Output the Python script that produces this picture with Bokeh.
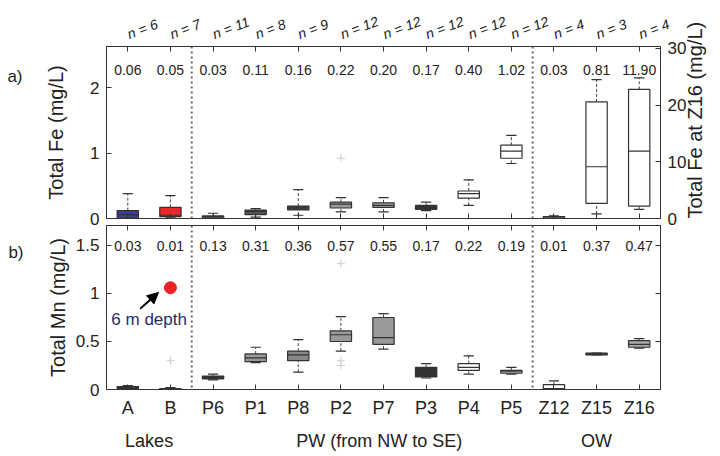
import math
from bokeh.plotting import figure
from bokeh.models import (Range1d, LinearAxis, FixedTicker, ColumnDataSource,
                          Label, Span, Arrow, NormalHead, CustomJSTickFormatter)
from bokeh.layouts import column
from bokeh.transform import dodge
from bokeh.core.properties import value
from bokeh.embed import file_html
from bokeh.resources import INLINE

FONT = "Liberation Sans"

# ---------------- data ----------------
categories = ["A", "B", "P6", "P1", "P8", "P2", "P7", "P3", "P4", "P5", "Z12", "Z15", "Z16"]
n_samples = [6, 7, 11, 8, 9, 12, 12, 12, 12, 12, 4, 3, 4]
groups = ["Lakes", "PW (from NW to SE)", "OW"]
panel_tags = ["a)", "b)"]

# Total Fe (mg/L); Z16 is read on the right axis
fe_axis = ["default"] * 12 + ["right"]
fe_median_text = ["0.06", "0.05", "0.03", "0.11", "0.16", "0.22", "0.20", "0.17", "0.40", "1.02", "0.03", "0.81", "11.90"]
fe_low = [0.0, 0.02, 0.0, 0.02, 0.05, 0.10, 0.10, 0.12, 0.20, 0.84, 0.0, 0.07, 1.6]
fe_q1 = [0.01, 0.03, 0.01, 0.06, 0.13, 0.16, 0.17, 0.14, 0.31, 0.92, 0.0, 0.23, 2.2]
fe_med = [0.06, 0.05, 0.03, 0.11, 0.16, 0.22, 0.20, 0.17, 0.38, 1.03, 0.02, 0.79, 11.9]
fe_q3 = [0.12, 0.17, 0.04, 0.13, 0.19, 0.25, 0.24, 0.20, 0.42, 1.12, 0.03, 1.78, 22.8]
fe_high = [0.38, 0.35, 0.08, 0.15, 0.44, 0.32, 0.32, 0.25, 0.59, 1.27, 0.04, 2.12, 24.8]
fe_fill = ["#3c3c99", "#e82a2a", "#bbbbbb", "#555555", "#444444", "#999999", "#aaaaaa",
           "#333333", "#ffffff", "#ffffff", "#ffffff", "#ffffff", "#ffffff"]
fe_outlier_cat = ["P2"]
fe_outlier_val = [0.92]

# Total Mn (mg/L)
mn_median_text = ["0.03", "0.01", "0.13", "0.31", "0.36", "0.57", "0.55", "0.17", "0.22", "0.19", "0.01", "0.37", "0.47"]
mn_low = [0.0, 0.0, 0.10, 0.28, 0.18, 0.40, 0.42, 0.12, 0.16, 0.16, 0.0, 0.36, 0.43]
mn_q1 = [0.01, 0.0, 0.11, 0.29, 0.30, 0.50, 0.47, 0.13, 0.20, 0.17, 0.0, 0.36, 0.44]
mn_med = [0.02, 0.01, 0.13, 0.33, 0.36, 0.57, 0.54, 0.17, 0.23, 0.19, 0.01, 0.37, 0.47]
mn_q3 = [0.03, 0.01, 0.14, 0.37, 0.40, 0.61, 0.75, 0.23, 0.27, 0.20, 0.05, 0.38, 0.51]
mn_high = [0.04, 0.02, 0.16, 0.44, 0.52, 0.76, 0.79, 0.27, 0.35, 0.23, 0.09, 0.38, 0.53]
mn_fill = ["#444444", "#333366", "#333333", "#999999", "#888888", "#999999", "#999999",
           "#333333", "#ffffff", "#dddddd", "#ffffff", "#444444", "#aaaaaa"]
mn_outlier_cat = ["B", "P2", "P2", "P2"]
mn_outlier_val = [0.30, 0.25, 0.30, 1.31]
b_6m_value = 1.06  # lake B at 6 m depth

# ---------------- layout constants ----------------
idx = list(range(len(categories)))
pos = {c: i for i, c in enumerate(categories)}
group_label_x = [0.5, 5.9, 11.0]
separators = [1.5, 9.5]
W = 720
LB, RB = 106, 56
EDGE = "#333333"
TXT = "#222222"


def blank():
    return CustomJSTickFormatter(code="return ''")


def style_axis(ax, labels=True, size="17px"):
    ax.major_tick_in = 5
    ax.major_tick_out = 0
    ax.minor_tick_line_color = None
    ax.axis_line_color = EDGE
    ax.major_tick_line_color = EDGE
    ax.major_label_text_font = FONT
    ax.major_label_text_font_size = size
    ax.major_label_text_color = TXT
    ax.axis_label_text_font = FONT
    ax.axis_label_text_font_size = "20px"
    ax.axis_label_text_font_style = "normal"
    ax.axis_label_text_color = TXT
    if not labels:
        ax.formatter = blank()
        ax.major_label_standoff = 0


def label_axis(ticks, texts, standoff, size):
    ax = LinearAxis(ticker=FixedTicker(ticks=ticks))
    ax.major_label_overrides = {t: s for t, s in zip(ticks, texts)}
    ax.major_tick_in = 0
    ax.major_tick_out = 0
    ax.minor_tick_line_color = None
    ax.axis_line_color = None
    ax.major_tick_line_color = None
    ax.major_label_standoff = standoff
    ax.major_label_text_font = FONT
    ax.major_label_text_font_size = size
    ax.major_label_text_color = TXT
    return ax


def draw_boxes(p, rows, range_name="default"):
    keys = ["x", "low", "q1", "med", "q3", "high", "fill"]
    d = {k: [r[i] for r in rows] for i, k in enumerate(keys)}
    src = ColumnDataSource(d)
    kw = dict(source=src, y_range_name=range_name)
    p.segment(x0="x", y0="low", x1="x", y1="q1", line_color="#444444", line_dash="3 2", **kw)
    p.segment(x0="x", y0="q3", x1="x", y1="high", line_color="#444444", line_dash="3 2", **kw)
    p.segment(x0=dodge("x", -0.12), y0="low", x1=dodge("x", 0.12), y1="low", line_color="#333333", line_width=1.2, **kw)
    p.segment(x0=dodge("x", -0.12), y0="high", x1=dodge("x", 0.12), y1="high", line_color="#333333", line_width=1.2, **kw)
    p.vbar(x="x", width=0.5, bottom="q1", top="q3", fill_color="fill", line_color="#333333", line_width=1.2, **kw)
    p.segment(x0=dodge("x", -0.25), y0="med", x1=dodge("x", 0.25), y1="med", line_color="#333333", line_width=1.2, **kw)


def make_fig(height, ymax, top, bottom):
    p = figure(width=W, height=height, x_range=Range1d(-0.5, 12.5), y_range=Range1d(0, ymax),
               output_backend="svg", toolbar_location=None,
               min_border_left=LB, min_border_right=RB, min_border_top=top, min_border_bottom=bottom)
    p.grid.visible = False
    p.outline_line_color = EDGE
    p.outline_line_width = 1
    for s in separators:
        p.add_layout(Span(location=s, dimension="height", line_color="#666666", line_dash="2 3", line_width=2))
    return p


# ---------------- panel a) Fe ----------------
p1 = make_fig(236, 2.626, 46, 18)
p1.extra_y_ranges = {"right": Range1d(0, 30.35)}

p1.xaxis.ticker = FixedTicker(ticks=idx)
style_axis(p1.xaxis[0], labels=False)
p1.yaxis.ticker = FixedTicker(ticks=[0, 1, 2])
style_axis(p1.yaxis[0])
p1.yaxis.axis_label = "Total Fe (mg/L)"
p1.yaxis.major_label_standoff = 7
p1.yaxis.axis_label_standoff = 20
p1.add_layout(label_axis([2.17], [panel_tags[0]], 20, "17px"), "left")

top_ax = LinearAxis(ticker=FixedTicker(ticks=idx))
style_axis(top_ax, size="14px")
top_ax.major_label_overrides = {i: f"n = {n}" for i, n in zip(idx, n_samples)}
top_ax.major_label_orientation = 0.36
top_ax.major_label_text_font_style = "italic"
top_ax.major_label_standoff = 12
p1.add_layout(top_ax, "above")

right_ax = LinearAxis(y_range_name="right", ticker=FixedTicker(ticks=[0, 10, 20, 30]),
                      axis_label="Total Fe at Z16 (mg/L)")
style_axis(right_ax)
right_ax.major_label_standoff = 7
right_ax.axis_label_standoff = 6
right_ax.axis_label_orientation = math.pi / 2
right_ax.axis_label_align = "start"
p1.add_layout(right_ax, "right")

fe_rows = list(zip(idx, fe_low, fe_q1, fe_med, fe_q3, fe_high, fe_fill))
draw_boxes(p1, [r for r, a in zip(fe_rows, fe_axis) if a == "default"], "default")
draw_boxes(p1, [r for r, a in zip(fe_rows, fe_axis) if a == "right"], "right")

p1.scatter(x=[pos[c] for c in fe_outlier_cat], y=fe_outlier_val, marker="cross",
           size=8, line_color="#cccccc")

p1.text(x=idx, y=2.27, text=fe_median_text, text_font=value(FONT), text_font_size="14px",
        text_align="center", text_baseline="middle", text_color=TXT)

# ---------------- panel b) Mn ----------------
p2 = make_fig(234, 1.708, 3, 67)
p2.margin = (-14, 0, 0, 0)
p2.border_fill_alpha = 0
p2.background_fill_alpha = 0

p2.xaxis.ticker = FixedTicker(ticks=idx)
style_axis(p2.xaxis[0], size="18px")
p2.xaxis.major_label_overrides = {i: c for i, c in enumerate(categories)}
p2.xaxis.major_label_standoff = 8
p2.add_layout(label_axis(group_label_x, groups, 10, "18px"), "below")

p2.yaxis.ticker = FixedTicker(ticks=[0, 0.5, 1, 1.5])
style_axis(p2.yaxis[0])
p2.yaxis.major_label_overrides = {0: "0", 1: "1"}
p2.yaxis.axis_label = "Total Mn (mg/L)"
p2.yaxis.major_label_standoff = 7
p2.yaxis.axis_label_standoff = 4
p2.add_layout(label_axis([1.43], [panel_tags[1]], 20, "17px"), "left")

top_ax2 = LinearAxis(ticker=FixedTicker(ticks=idx))
style_axis(top_ax2, labels=False)
p2.add_layout(top_ax2, "above")
right_ax2 = LinearAxis(ticker=FixedTicker(ticks=[0, 0.5, 1, 1.5]))
style_axis(right_ax2, labels=False)
p2.add_layout(right_ax2, "right")

mn_rows = list(zip(idx, mn_low, mn_q1, mn_med, mn_q3, mn_high, mn_fill))
draw_boxes(p2, mn_rows)

p2.scatter(x=[pos[c] for c in mn_outlier_cat], y=mn_outlier_val, marker="cross",
           size=8, line_color="#cccccc")
p2.scatter(x=[pos["B"]], y=[b_6m_value], marker="circle", size=12,
           fill_color="#ee2222", line_color="#ee2222")
p2.add_layout(Arrow(end=NormalHead(size=11, fill_color="black", line_color="black"),
                    x_start=0.29, y_start=0.84, x_end=0.72, y_end=1.01,
                    line_width=2, line_color="black"))
p2.add_layout(Label(x=0.5, y=0.73, text="6 m depth", text_font=FONT, text_font_size="17px",
                    text_align="center", text_baseline="middle", text_color="#2b2b66"))

p2.text(x=idx, y=1.49, text=mn_median_text, text_font=value(FONT), text_font_size="14px",
        text_align="center", text_baseline="middle", text_color=TXT)

layout = column(p1, p2, spacing=0)
open("out.html", "w").write(file_html(layout, INLINE))
